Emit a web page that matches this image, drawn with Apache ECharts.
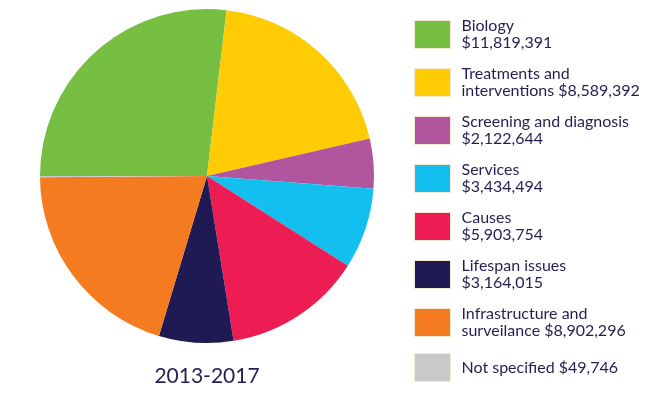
<!DOCTYPE html>
<html>
<head>
    <meta charset='utf-8'>
    <script src="https://cdn.jsdelivr.net/npm/echarts@6/dist/echarts.min.js"></script>
</head>
<body>
<style>
    html, body, #main {
        width: 100%;
        height: 100%;
        margin: 0;
        padding: 0;
        background: #fff;
    }
</style>
<div id="main"></div>
<script>
    var names = ['Biology', 'Treatments and interventions', 'Screening and diagnosis', 'Services',
        'Causes', 'Lifespan issues', 'Infrastructure and surveilance', 'Not specified'];
    var values = [11819391, 8589392, 2122644, 3434494, 5903754, 3164015, 8902296, 49746];
    // legend text, the amount gets appended
    var legendLines = [
        ['Biology', ''],
        ['Treatments and', 'interventions '],
        ['Screening and diagnosis', ''],
        ['Services', ''],
        ['Causes', ''],
        ['Lifespan issues', ''],
        ['Infrastructure and', 'surveilance '],
        ['Not specified ', null]
    ];
    var colors = ['#77bf43', '#ffcb05', '#b0559e', '#12bfee', '#ed1c52', '#1f1a53', '#f47b20', '#c8c9cb'];
    var period = '2013-2017';

    function money(v) {
        return '$' + v.toLocaleString('en-US');
    }

    var chart = echarts.init(document.getElementById('main'));

    chart.setOption({
        animation: false,
        color: colors,
        textStyle: {fontFamily: 'Lato'},
        legend: {
            orient: 'vertical',
            left: 414,
            top: 17,
            padding: 0,
            itemWidth: 36,
            itemHeight: 28,
            itemGap: 13,
            icon: 'rect',
            selectedMode: false,
            itemStyle: {borderColor: '#f6ead4', borderWidth: 1},
            textStyle: {
                color: '#231f50',
                fontSize: 16,
                lineHeight: 17.5,
                padding: [0, 0, 0, 6]
            },
            formatter: function (name) {
                var i = names.indexOf(name);
                var l = legendLines[i];
                if (l[1] === null) {
                    return l[0] + money(values[i]);
                }
                return l[0] + '\n' + l[1] + money(values[i]);
            }
        },
        graphic: [{
            type: 'text',
            x: 207,
            y: 376,
            style: {
                text: period,
                fill: '#231f50',
                font: '21px Lato',
                align: 'center',
                verticalAlign: 'middle'
            }
        }],
        series: [{
            type: 'pie',
            center: [207, 176],
            radius: 167,
            startAngle: 180,
            clockwise: true,
            label: {show: false},
            labelLine: {show: false},
            emphasis: {disabled: true},
            itemStyle: {borderWidth: 0},
            data: names.map(function (n, i) {
                return {name: n, value: values[i]};
            })
        }]
    });
</script>
</body>
</html>
